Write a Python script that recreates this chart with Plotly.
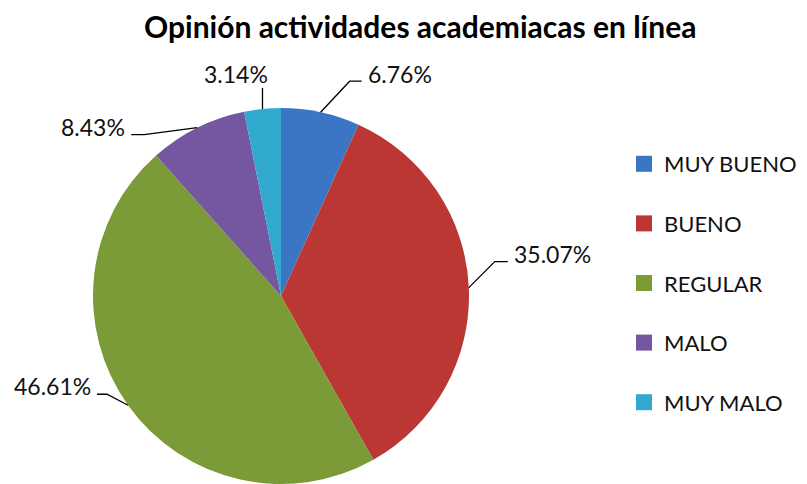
import math
import plotly.graph_objects as go

categories = ["MUY BUENO", "BUENO", "REGULAR", "MALO", "MUY MALO"]
values = [6.76, 35.07, 46.61, 8.43, 3.14]
colors = ["#3a76c4", "#bb3734", "#7b9a38", "#7556a0", "#32aacf"]
title_text = "Opinión actividades academiacas en línea"

PAGE_W, PAGE_H = 807, 484
OFF = 8  # default page body margin
W, H = PAGE_W - OFF, PAGE_H - OFF
CX, CY, R = 281, 296, 188  # page pixel coords
FONT = "Lato"

# label layout (pixel offsets): elbow relative to slice edge, tail length, text offset from tail end
label_layout = [
    dict(elbow=(29, -31), tail=12, text=(4, -7), anchor="left"),
    dict(elbow=(26, -26), tail=13, text=(4, -8), anchor="left"),
    dict(elbow=(-21, -11), tail=-10, text=(-4, -8), anchor="right"),
    dict(elbow=(-53, 7), tail=-13, text=(-4, -8), anchor="right"),
    dict(elbow=(0, -21), tail=0, text=(-26, -14), anchor="center"),
]


def px(x):
    return (x - OFF) / W


def py(y):
    return 1 - (y - OFF) / H


fig = go.Figure()
fig.add_trace(go.Pie(
    labels=categories, values=values, sort=False, direction="clockwise", rotation=0,
    marker=dict(colors=colors, line=dict(width=0)),
    textinfo="none", hoverinfo="label+percent", showlegend=False,
    domain=dict(x=[px(CX - R), px(CX + R)], y=[max(0, py(CY + R)), py(CY - R)]),
))

# legend entries via dummy traces
for cat, col in zip(categories, colors):
    fig.add_trace(go.Scatter(
        x=[None], y=[None], mode="markers", name=cat, legendgroup=cat,
        marker=dict(symbol="square", size=17, color=col),
    ))

total = sum(values)
cum = 0.0
shapes = []
annotations = []
for v, lay in zip(values, label_layout):
    mid = (cum + v / 2) / total * 2 * math.pi
    cum += v
    ex = CX + R * math.sin(mid)
    ey = CY - R * math.cos(mid)
    bx = ex + lay["elbow"][0]
    by = ey + lay["elbow"][1]
    tx = bx + lay["tail"]
    ty = by
    path = f"M {px(ex)} {py(ey)} L {px(bx)} {py(by)} L {px(tx)} {py(ty)}"
    shapes.append(dict(type="path", path=path, xref="paper", yref="paper",
                       line=dict(color="#000000", width=1.3)))
    lx = tx + lay["text"][0]
    ly = ty + lay["text"][1]
    annotations.append(dict(
        x=px(lx), y=py(ly), xref="paper", yref="paper", text=f"{v:.2f}%",
        showarrow=False, xanchor=lay["anchor"], yanchor="middle",
        font=dict(family=FONT, size=23, color="#111111"),
    ))

annotations.append(dict(
    x=px(420), y=py(26), xref="paper", yref="paper", text=f"<b>{title_text}</b>",
    showarrow=False, xanchor="center", yanchor="middle",
    font=dict(family=FONT, size=30, color="#000000"),
))

fig.update_layout(
    width=W, height=H,
    margin=dict(l=0, r=0, t=0, b=0, autoexpand=False),
    paper_bgcolor="white", plot_bgcolor="white",
    xaxis=dict(visible=False), yaxis=dict(visible=False),
    shapes=shapes, annotations=annotations,
    showlegend=True,
    legend=dict(x=px(624), y=py(143), xanchor="left", yanchor="top",
                font=dict(family=FONT, size=22, color="#111111"),
                tracegroupgap=28, bgcolor="rgba(0,0,0,0)"),
)

fig.write_html("out.html")
